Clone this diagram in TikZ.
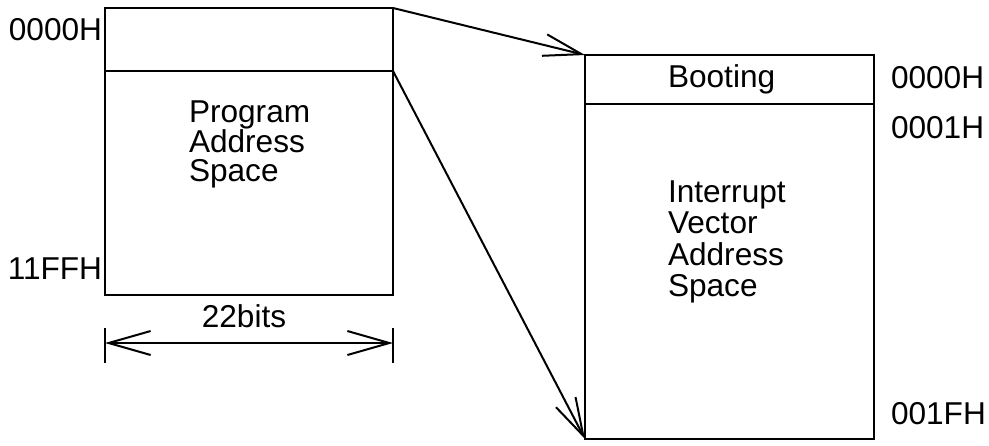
\documentclass[tikz,border=0pt]{standalone}
\usepackage{fontspec}
\setmainfont{Liberation Sans}
\usetikzlibrary{arrows.meta}

\begin{document}
\begin{tikzpicture}[x=0.5pt, y=-0.5pt, line width=1pt,
    font=\fontsize{15.8}{14.8}\selectfont,
    txt/.style={inner sep=0pt},
    ptr/.style={-{Straight Barb[length=19pt, width=11pt]}},
    dim/.style={{Straight Barb[length=21pt, width=12pt]}-{Straight Barb[length=21pt, width=12pt]}}
]
    \useasboundingbox (0,0) rectangle (989,445);

    % program memory
    \coordinate (p1) at (105, 8);
    \coordinate (p2) at (393, 8);
    \coordinate (p3) at (393, 71);
    \coordinate (p4) at (105, 71);
    \coordinate (p5) at (393, 295);
    \coordinate (p6) at (105, 295);

    % interrupt vector memory
    \coordinate (v1) at (585, 55);
    \coordinate (v2) at (874, 55);
    \coordinate (v3) at (874, 104);
    \coordinate (v4) at (585, 104);
    \coordinate (v5) at (874, 439);
    \coordinate (v6) at (585, 439);

    \begin{scope}
        \draw (p1) rectangle (p5);
        \draw[line width=1.4pt] (p1) -- (p2) -- (p3);
        \draw (p4) -- (p3);

        \node[txt, anchor=base east] (pa0) at (103, 40) {0000H};
        \node[txt, anchor=base east] (pa1) at (103, 279) {11FFH};
        \node[txt, anchor=north west, align=left] (prog) at (188, 100)
            {Program\\Address\\Space};
    \end{scope}

    \begin{scope}[font=\fontsize{15.8}{15.6}\selectfont]
        \draw (v1) rectangle (v5);
        \draw (v4) -- (v3);

        \node[txt, anchor=base west] (boot) at (667, 87) {Booting};
        \node[txt, anchor=north west, align=left] (ivec) at (667, 180)
            {Interrupt\\Vector\\Address\\Space};

        \foreach \n/\y/\t in {va0/88/0000H, va1/138/0001H, va2/424/001FH} {
            \node[txt, anchor=base west] (\n) at (890, \y) {\t};
        }
    \end{scope}

    % pointers
    \draw[ptr] (p2) -- (v1);
    \draw[ptr] (p3) -- (v6);

    % width
    \coordinate (d1) at (105, 328);
    \coordinate (d2) at (105, 363);
    \coordinate (d3) at (393, 328);
    \coordinate (d4) at (393, 363);
    \coordinate (dl) at (105, 343);
    \coordinate (dr) at (393, 343);
    \draw (d1) -- (d2);
    \draw (d3) -- (d4);
    \draw[dim] (dl) -- (dr);
    \node[txt, anchor=base] (bits) at (244, 327) {22bits};
\end{tikzpicture}
\end{document}
